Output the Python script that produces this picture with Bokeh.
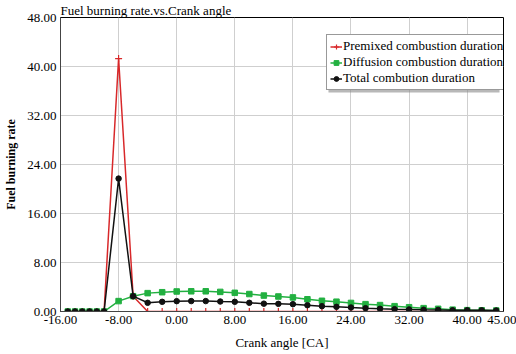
from bokeh.plotting import figure
from bokeh.models import (Range1d, FixedTicker, NumeralTickFormatter, Legend,
                          LegendItem, BoxAnnotation)
from bokeh.embed import file_html
from bokeh.resources import INLINE

# Crank angle positions [CA]
crank_angle = [-15, -14, -13, -12, -11, -10,
               -8, -6, -4, -2, 0, 2, 4, 6, 8, 10, 12, 14, 16, 18, 20,
               22, 24, 26, 28, 30, 32, 34, 36, 38, 40, 42, 44]

premixed = [0, 0, 0, 0, 0, 0,
            41.3, 2.5, 0, 0, 0, 0, 0, 0, 0, 0, 0, 0, 0, 0, 0,
            0, 0, 0, 0, 0, 0, 0, 0, 0, 0, 0, 0]

diffusion = [0, 0, 0, 0, 0, 0,
             1.7, 2.5, 3.0, 3.15, 3.27, 3.3, 3.3, 3.2, 3.05, 2.85, 2.6,
             2.45, 2.3, 2.0, 1.75, 1.6, 1.4, 1.2, 1.05, 0.87, 0.7, 0.55,
             0.44, 0.3, 0.22, 0.2, 0.16]

total = [0, 0, 0, 0, 0, 0,
         21.7, 2.5, 1.42, 1.58, 1.69, 1.7, 1.7, 1.63, 1.58, 1.42, 1.28,
         1.25, 1.2, 1.03, 0.87, 0.76, 0.65, 0.54, 0.44, 0.38, 0.33, 0.28,
         0.26, 0.2, 0.2, 0.19, 0.16]

x_ticks = [-16, -8, 0, 8, 16, 24, 32, 40, 45]
y_ticks = [0, 8, 16, 24, 32, 40, 48]

series_names = ["Premixed combustion duration",
                "Diffusion combustion duration",
                "Total combution duration"]

FONT = "Liberation Serif"

p = figure(width=516, height=354, output_backend="svg", toolbar_location=None,
           x_range=Range1d(-16, 45), y_range=Range1d(0, 48),
           min_border_left=60, min_border_right=13,
           min_border_top=0, min_border_bottom=43)

p.background_fill_color = "white"
p.border_fill_color = "white"
p.outline_line_color = "black"
p.outline_line_width = 1

# chart title sitting on the top frame line
p.title.text = "Fuel burning rate.vs.Crank angle"
p.title.text_font = FONT
p.title.text_font_size = "13px"
p.title.text_font_style = "normal"
p.title.text_color = "black"
p.title.standoff = 0
p.title.offset = 0
p.title.align = "left"

# axes
p.xaxis.ticker = FixedTicker(ticks=x_ticks)
p.yaxis.ticker = FixedTicker(ticks=y_ticks)
p.xaxis.formatter = NumeralTickFormatter(format="0.00")
p.yaxis.formatter = NumeralTickFormatter(format="0.00")
for ax in (p.xaxis[0], p.yaxis[0]):
    ax.major_tick_out = 0
    ax.major_tick_in = 0
    ax.minor_tick_out = 0
    ax.minor_tick_in = 0
    ax.axis_line_color = "#444444"
    ax.major_label_text_font = FONT
    ax.major_label_text_font_size = "13px"
    ax.major_label_text_font_style = "normal"
    ax.major_label_text_color = "black"
    ax.major_label_standoff = 4
    ax.axis_label_text_font = FONT
    ax.axis_label_text_color = "black"
    ax.axis_label_text_font_style = "normal"

p.xaxis.axis_label = "Crank angle [CA]"
p.xaxis.axis_label_text_font_size = "13px"
p.xaxis.axis_label_standoff = 8
p.yaxis.axis_label = "Fuel burning rate"
p.yaxis.axis_label_text_font_size = "12px"
p.yaxis.axis_label_text_font_style = "bold"
p.yaxis.axis_label_standoff = 6

p.grid.grid_line_color = "#cfcfcf"
p.grid.grid_line_width = 1

# series
red = "#d8282a"
green = "#22b040"
black = "#111111"

r_line = p.line(crank_angle, premixed, line_color=red, line_width=1.5)
r_mark = p.scatter(crank_angle, premixed, marker="cross", size=7,
                   line_color=red, line_width=1.2)
g_line = p.line(crank_angle, diffusion, line_color=green, line_width=1.5)
g_mark = p.scatter(crank_angle, diffusion, marker="square", size=5.5,
                   fill_color=green, line_color=green)
k_line = p.line(crank_angle, total, line_color=black, line_width=1.5)
k_mark = p.scatter(crank_angle, total, marker="circle", size=5.5,
                   fill_color=black, line_color=black)

# legend shadow
shadow = BoxAnnotation(left=20.9, right=44.45, bottom=35.76, top=44.57,
                       fill_color="#888888", fill_alpha=0.6, line_color=None)
p.add_layout(shadow)

legend = Legend(items=[
    LegendItem(label=series_names[0], renderers=[r_line, r_mark]),
    LegendItem(label=series_names[1], renderers=[g_line, g_mark]),
    LegendItem(label=series_names[2], renderers=[k_line, k_mark]),
], location=(266, 221))
legend.label_text_font = FONT
legend.label_text_font_size = "13px"
legend.label_text_font_style = "normal"
legend.label_text_color = "black"
legend.label_height = 15
legend.label_width = 160
legend.glyph_height = 15
legend.glyph_width = 12
legend.label_standoff = 1
legend.spacing = 0
legend.padding = 3
legend.margin = 0
legend.border_line_color = "#333333"
legend.border_line_width = 1
legend.background_fill_color = "white"
legend.background_fill_alpha = 1
p.add_layout(legend)

open("out.html", "w").write(file_html(p, INLINE))
